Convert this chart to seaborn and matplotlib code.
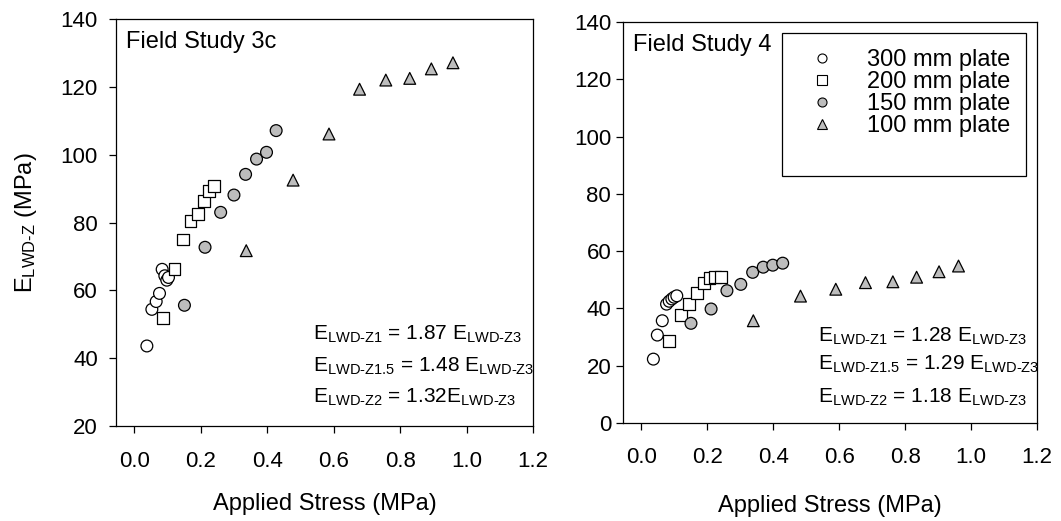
import matplotlib
matplotlib.use("Agg")
import matplotlib.pyplot as plt
from matplotlib.lines import Line2D
import pandas as pd
import seaborn as sns

# plate sizes, in legend order
plates = ["300 mm plate", "200 mm plate", "150 mm plate", "100 mm plate"]

# Field Study 3c
s300_x_3c = [0.038, 0.053, 0.066, 0.076, 0.084, 0.092, 0.098, 0.103]
s300_y_3c = [43.6, 54.4, 56.7, 59.1, 66.2, 64.3, 63.0, 63.8]
s200_x_3c = [0.086, 0.121, 0.147, 0.169, 0.191, 0.209, 0.226, 0.241]
s200_y_3c = [51.8, 66.2, 75.0, 80.4, 82.4, 86.3, 89.4, 90.8]
s150_x_3c = [0.151, 0.213, 0.260, 0.300, 0.335, 0.368, 0.398, 0.427]
s150_y_3c = [55.6, 72.7, 83.0, 88.1, 94.2, 98.7, 100.7, 107.1]
s100_x_3c = [0.337, 0.478, 0.586, 0.678, 0.757, 0.829, 0.894, 0.959]
s100_y_3c = [71.7, 92.5, 106.1, 119.3, 122.0, 122.5, 125.3, 127.1]

# Field Study 4
s300_x_4 = [0.037, 0.049, 0.064, 0.077, 0.085, 0.093, 0.100, 0.108]
s300_y_4 = [22.3, 30.7, 35.7, 41.5, 42.5, 43.3, 43.9, 44.4]
s200_x_4 = [0.085, 0.120, 0.146, 0.169, 0.190, 0.207, 0.224, 0.241]
s200_y_4 = [28.7, 37.7, 41.5, 45.5, 48.9, 50.6, 51.0, 51.0]
s150_x_4 = [0.151, 0.212, 0.260, 0.302, 0.338, 0.370, 0.399, 0.429]
s150_y_4 = [34.8, 39.8, 46.2, 48.4, 52.6, 54.4, 55.1, 55.8]
s100_x_4 = [0.340, 0.483, 0.590, 0.680, 0.763, 0.835, 0.903, 0.962]
s100_y_4 = [35.7, 44.3, 46.7, 49.0, 49.3, 50.9, 52.8, 54.8]

ratios_3c = ["1.87 ", "1.48 ", "1.32"]
ratios_4 = ["1.28 ", "1.29 ", "1.18 "]
zones = ["Z1", "Z1.5", "Z2"]

marker_map = {"300 mm plate": "o", "200 mm plate": "s", "150 mm plate": "o", "100 mm plate": "^"}
color_map = {"300 mm plate": "white", "200 mm plate": "white",
             "150 mm plate": "#bdbdbd", "100 mm plate": "#bdbdbd"}

sns.set_theme(style="ticks")
plt.rcParams["font.family"] = ["Liberation Sans", "DejaVu Sans"]
plt.rcParams["mathtext.fontset"] = "custom"
plt.rcParams["mathtext.rm"] = "Liberation Sans"
plt.rcParams["mathtext.it"] = "Liberation Sans:italic"
plt.rcParams["mathtext.bf"] = "Liberation Sans:bold"
for key in ["text.color", "axes.labelcolor", "xtick.color", "ytick.color", "axes.edgecolor"]:
    plt.rcParams[key] = "black"
plt.rcParams["axes.linewidth"] = 0.9

FS = 16


def build_frame(xs, ys):
    parts = []
    for plate, x, y in zip(plates, xs, ys):
        parts.append(pd.DataFrame({"stress": x, "modulus": y, "plate": plate}))
    return pd.concat(parts, ignore_index=True)


def draw_panel(ax, df, title, ratios, ylim, yticks, ann_y, ytick_pad, xtick_pad):
    sns.scatterplot(data=df, x="stress", y="modulus", hue="plate", style="plate",
                    markers=marker_map, palette=color_map, hue_order=plates,
                    style_order=plates, s=72, edgecolor="black", linewidth=0.9,
                    legend=False, ax=ax, zorder=3)
    ax.set_xlim(-0.055, 1.2)
    ax.set_ylim(*ylim)
    ax.set_xticks([0.0, 0.2, 0.4, 0.6, 0.8, 1.0, 1.2])
    ax.set_xticklabels(["0.0", "0.2", "0.4", "0.6", "0.8", "1.0", "1.2"])
    ax.set_yticks(yticks)
    ax.tick_params(axis="both", direction="out", length=5, width=0.9,
                   labelsize=FS, colors="black", top=False, right=False)
    ax.tick_params(axis="y", pad=ytick_pad)
    ax.tick_params(axis="x", pad=xtick_pad)
    for sp in ax.spines.values():
        sp.set_visible(True)
        sp.set_color("black")
    ax.set_xlabel("Applied Stress (MPa)", fontsize=FS + 1)
    ax.set_ylabel("")
    ax.text(0.024, 0.928, title, transform=ax.transAxes, fontsize=FS + 1,
            ha="left", va="baseline")
    for r, z, yy in zip(ratios, zones, ann_y):
        ax.text(0.472, yy,
                r"E$_{\text{LWD-" + z + r"}}$ = " + r + r"E$_{\text{LWD-Z3}}$",
                transform=ax.transAxes, fontsize=15, ha="left", va="baseline")


fig = plt.figure(figsize=(10.61, 5.21), dpi=100)
ax1 = fig.add_axes([0.1093, 0.1823, 0.3931, 0.7812])
ax2 = fig.add_axes([0.5872, 0.1881, 0.3902, 0.7697])

df_3c = build_frame([s300_x_3c, s200_x_3c, s150_x_3c, s100_x_3c],
                    [s300_y_3c, s200_y_3c, s150_y_3c, s100_y_3c])
df_4 = build_frame([s300_x_4, s200_x_4, s150_x_4, s100_x_4],
                   [s300_y_4, s200_y_4, s150_y_4, s100_y_4])

draw_panel(ax1, df_3c, "Field Study 3c", ratios_3c, (20, 140),
           [20, 40, 60, 80, 100, 120, 140], [0.211, 0.133, 0.057], 8, 13)
draw_panel(ax2, df_4, "Field Study 4", ratios_4, (0, 140),
           [0, 20, 40, 60, 80, 100, 120, 140], [0.202, 0.132, 0.050], 3.5, 12)

ax1.set_ylabel(r"E$_{\text{LWD-Z}}$ (MPa)", fontsize=FS + 1)
ax1.yaxis.set_label_coords(-0.185, 0.5)
ax1.xaxis.set_label_coords(0.5, -0.165)
ax2.xaxis.set_label_coords(0.5, -0.18)

# legend only on the right panel
handles = []
for p in plates:
    handles.append(Line2D([], [], linestyle="none", marker=marker_map[p],
                          markerfacecolor=color_map[p], markeredgecolor="black",
                          markeredgewidth=0.8, markersize=6.5, label=p))
handles.append(Line2D([], [], linestyle="none", label=" "))
leg = ax2.legend(handles=handles, loc="upper right", fontsize=FS + 1,
                 borderaxespad=0.45, borderpad=0.7, handlelength=2.0,
                 handletextpad=0.9, labelspacing=0.0, fancybox=False,
                 framealpha=1.0, edgecolor="black")
leg.get_frame().set_linewidth(0.9)

fig.savefig("out.png", dpi=100)
